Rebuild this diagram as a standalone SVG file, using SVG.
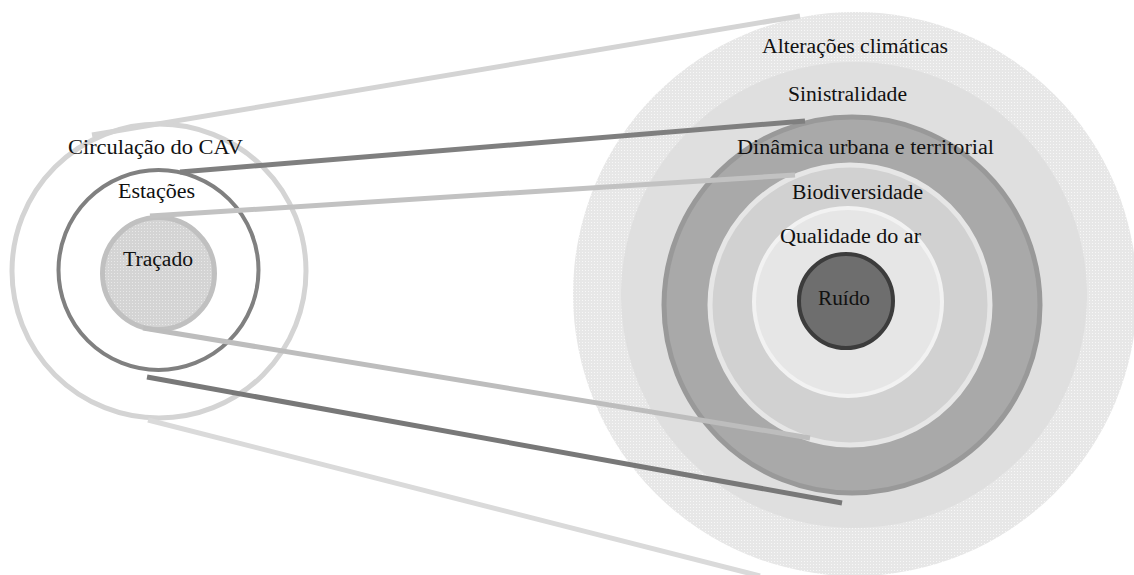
<svg xmlns="http://www.w3.org/2000/svg" width="1134" height="575" viewBox="0 0 1134 575">
  <defs>
    <!-- fine halftone textures -->
    <pattern id="halftone" width="3" height="3" patternUnits="userSpaceOnUse">
      <rect width="3" height="3" fill="#e7e7e7"/>
      <rect width="1" height="1" fill="#f7f7f7"/>
    </pattern>
    <pattern id="halftoneDark" width="3" height="3" patternUnits="userSpaceOnUse">
      <rect width="3" height="3" fill="#d4d4d4"/>
      <rect width="1" height="1" fill="#e8e8e8"/>
    </pattern>
    <style>
      text { font-family: "Liberation Serif", "DejaVu Serif", serif; font-size: 20px; fill: #111; }
      .conn { fill: none; stroke-width: 5; stroke-linecap: butt; }
    </style>
  </defs>

  <rect width="1134" height="575" fill="#ffffff"/>

  <!-- right-hand concentric impact rings -->
  <g id="alteracoes-climaticas">
    <circle cx="855" cy="294" r="282" fill="url(#halftone)"/>
  </g>
  <g id="sinistralidade">
    <circle cx="854" cy="295" r="233" fill="#dfdfdf"/>
  </g>
  <g id="dinamica-urbana">
    <circle cx="852" cy="305" r="188" fill="#a9a9a9" stroke="#999999" stroke-width="5"/>
  </g>
  <g id="biodiversidade">
    <circle cx="850" cy="305" r="140" fill="#d1d1d1" stroke="#e6e6e6" stroke-width="5"/>
  </g>
  <g id="qualidade-ar">
    <circle cx="848" cy="302" r="94" fill="#e6e6e6" stroke="#f2f2f2" stroke-width="4"/>
  </g>
  <g id="ruido">
    <circle cx="846" cy="301" r="47" fill="#6e6e6e" stroke="#3c3c3c" stroke-width="4"/>
  </g>

  <!-- left-hand project components -->
  <g id="circulacao">
    <circle cx="159" cy="271" r="147" fill="none" stroke="#d4d4d4" stroke-width="5"/>
  </g>
  <g id="estacoes">
    <circle cx="158.5" cy="270" r="100" fill="none" stroke="#808080" stroke-width="4"/>
  </g>
  <g id="tracado">
    <circle cx="158.5" cy="273.5" r="56" fill="url(#halftoneDark)" stroke="#c0c0c0" stroke-width="5"/>
  </g>

  <!-- connectors -->
  <g id="connectors">
    <line class="conn" x1="92" y1="135" x2="800" y2="16" stroke="#d4d4d4"/>
    <line class="conn" x1="180" y1="172" x2="805" y2="121" stroke="#7f7f7f"/>
    <line class="conn" x1="150" y1="216" x2="795" y2="175" stroke="#c2c2c2"/>
    <line class="conn" x1="143" y1="328" x2="810" y2="438" stroke="#bdbdbd"/>
    <line class="conn" x1="147" y1="377" x2="842" y2="503" stroke="#787878"/>
    <line class="conn" x1="148" y1="420" x2="760" y2="576" stroke="#dadada"/>
  </g>

  <!-- labels -->
  <g id="labels" font-family="Liberation Serif, DejaVu Serif, serif">
    <text x="68" y="154" textLength="175" lengthAdjust="spacingAndGlyphs">Circulação do CAV</text>
    <text x="118" y="198" textLength="77" lengthAdjust="spacingAndGlyphs">Estações</text>
    <text x="123" y="266" textLength="70" lengthAdjust="spacingAndGlyphs">Traçado</text>
    <text x="762" y="53" textLength="186" lengthAdjust="spacingAndGlyphs">Alterações climáticas</text>
    <text x="788" y="101" textLength="119" lengthAdjust="spacingAndGlyphs">Sinistralidade</text>
    <text x="737" y="154" textLength="257" lengthAdjust="spacingAndGlyphs">Dinâmica urbana e territorial</text>
    <text x="792" y="199" textLength="131" lengthAdjust="spacingAndGlyphs">Biodiversidade</text>
    <text x="780" y="243" textLength="141" lengthAdjust="spacingAndGlyphs">Qualidade do ar</text>
    <text x="818" y="305" textLength="52" lengthAdjust="spacingAndGlyphs">Ruído</text>
  </g>
</svg>
